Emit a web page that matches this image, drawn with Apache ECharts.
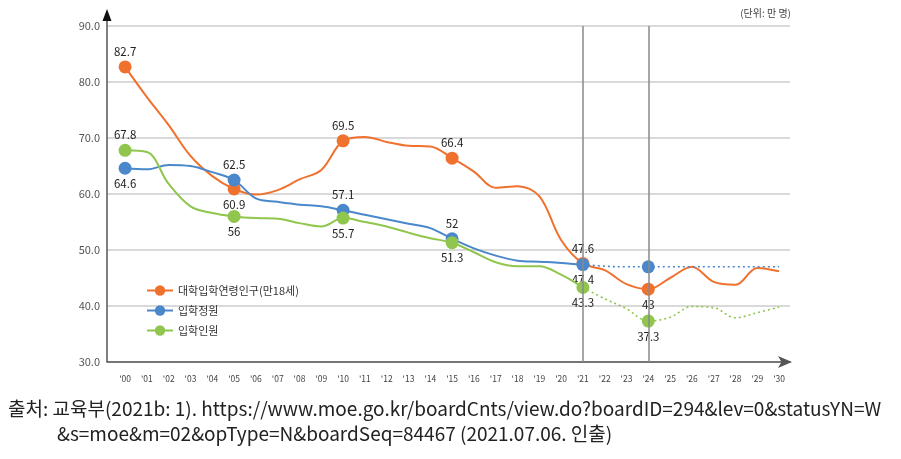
<!DOCTYPE html>
<html><head><meta charset="utf-8">
<script src="https://cdn.jsdelivr.net/npm/echarts@6/dist/echarts.min.js"></script>
<style>html,body{margin:0;padding:0;background:#fff}#c{width:901px;height:459px}</style>
</head><body><div id="c"></div>
<script>
// ---- data ----
const yearLabels = ["'00","'01","'02","'03","'04","'05","'06","'07","'08","'09","'10","'11","'12","'13","'14","'15","'16","'17","'18","'19","'20","'21","'22","'23","'24","'25","'26","'27","'28","'29","'30"];
const yTicks = [30, 40, 50, 60, 70, 80, 90];
const seriesNames = ["대학입학연령인구(만18세)", "입학정원", "입학인원"];
// 대학입학연령인구 '00-'30
const popAge18 = [82.7,77.3,72.3,66.8,63.2,60.9,59.9,60.7,62.6,64.3,69.5,70.2,69.3,68.6,68.5,66.4,64.0,61.1,61.4,59.6,51.8,47.6,46.4,43.9,43.0,45.0,47.0,44.3,43.8,46.8,46.2];
// 입학정원 '00-'21 (actual) and '21-'30 (projection)
const quotaActual = [64.6,64.4,65.2,65.0,63.9,62.5,59.2,58.6,58.1,57.8,57.1,56.3,55.5,54.7,53.9,52.0,50.3,49.0,48.1,47.9,47.7,47.4];
const quotaProj = [47.4,47.1,47.0,47.0,47.0,47.0,47.0,47.0,47.0,47.0];
// 입학인원 '00-'21 (actual) and '21-'30 (projection)
const entrantsActual = [67.8,67.5,61.8,57.8,56.6,56.0,55.7,55.6,54.8,54.2,55.7,55.0,54.2,53.1,52.1,51.3,49.6,47.8,47.1,47.1,45.6,43.3];
const entrantsProj = [43.3,41.3,39.5,37.3,38.0,39.9,39.7,37.9,38.8,39.8];
const projStart = 21;
const markedYears = [0, 5, 10, 15, 21, 24];
const dividerYears = [21, 24];
// label placement of marked points
const popLabelPos = {0:'top',5:'bottom',10:'top',15:'top',21:'top',24:'bottom'};
const quotaLabelPos = {0:'bottom',5:'top',10:'top',15:'top',21:'bottom'};
const entrantsLabelPos = {0:'top',5:'bottom',10:'bottom',15:'bottom',21:'bottom',24:'bottom'};

// ---- styles ----
const C_OR = '#F0712E', C_BL = '#4A88CB', C_GR = '#90C64E';
const FONT = '"Noto Sans CJK KR", "Noto Sans", sans-serif';

function build(values, offset, labelPos) {
  return values.map((v, k) => {
    const i = k + offset;
    const marked = markedYears.includes(i);
    const item = { value: [i, v] };
    if (marked && labelPos && labelPos[i] !== undefined) {
      item.label = { show: true, position: labelPos[i] };
    }
    if (!marked) item.symbolSize = 0;
    return item;
  });
}

function lineSeries(name, color, data, dotted) {
  return {
    name: name, type: 'line', data: data, smooth: 0.35,
    symbol: 'circle', symbolSize: 13, showSymbol: true,
    itemStyle: { color: color },
    lineStyle: { color: color, width: dotted ? 1.6 : 2, type: dotted ? [2, 3] : 'solid' },
    label: { show: false, color: '#222', fontSize: 11.5, fontFamily: FONT, distance: 3,
             formatter: p => String(p.value[1]) },
    emphasis: { disabled: true }, animation: false
  };
}

const chart = echarts.init(document.getElementById('c'), null, { renderer: 'canvas' });

const sOrange = lineSeries(seriesNames[0], C_OR, build(popAge18, 0, popLabelPos), false);
sOrange.markLine = {
  silent: true, symbol: ['none', 'none'], label: { show: false },
  lineStyle: { color: '#8a8a8a', width: 1.5, type: 'solid' },
  data: dividerYears.map(x => ({ xAxis: x })), animation: false
};
sOrange.z = 2;
const sBlue = lineSeries(seriesNames[1], C_BL, build(quotaActual, 0, quotaLabelPos), false); sBlue.z = 3;
const sBlueP = lineSeries(seriesNames[1] + ' 전망', C_BL, build(quotaProj, projStart, {}), true); sBlueP.z = 3;
const sGreen = lineSeries(seriesNames[2], C_GR, build(entrantsActual, 0, entrantsLabelPos), false); sGreen.z = 4;
const sGreenP = lineSeries(seriesNames[2] + ' 전망', C_GR, build(entrantsProj, projStart, entrantsLabelPos), true); sGreenP.z = 4;
// avoid double markers at projection start
sBlueP.data[0].symbolSize = 0; sGreenP.data[0].symbolSize = 0; delete sGreenP.data[0].label;

const GL = 107, GR = 111, GT = 26, GB = 97;

chart.setOption({
  animation: false,
  textStyle: { fontFamily: FONT },
  grid: { left: GL, right: GR, top: GT, bottom: GB },
  legend: {
    data: seriesNames, orient: 'vertical', left: 141, top: 280,
    itemWidth: 26, itemHeight: 13, itemGap: 9,
    textStyle: { fontSize: 11, color: '#333', fontFamily: FONT }
  },
  xAxis: {
    type: 'value', min: -0.83, max: 30.5,
    axisLine: { show: true, lineStyle: { color: '#555', width: 1.5 }, symbol: ['none', 'arrow'], symbolSize: [9, 14], symbolOffset: [0, 2] },
    axisTick: { show: false },
    splitLine: { show: false },
    axisLabel: {
      customValues: yearLabels.map((_, i) => i),
      formatter: v => yearLabels[Math.round(v)] || '',
      fontSize: 8.5, color: '#444', margin: 13, fontFamily: FONT
    }
  },
  yAxis: {
    type: 'value', min: yTicks[0], max: yTicks[yTicks.length - 1], interval: 10,
    axisLine: { show: false },
    axisTick: { show: false },
    splitLine: { show: true, lineStyle: { color: '#cdcdcd', width: 1.5 } },
    axisLabel: { formatter: v => v.toFixed(1), fontSize: 11, color: '#555', margin: 7, fontFamily: FONT }
  },
  graphic: [
    { type: 'line', shape: { x1: GL, y1: 459 - GB, x2: GL, y2: 16 }, style: { stroke: '#555', lineWidth: 1.5 }, z: 10 },
    { type: 'polygon', shape: { points: [[GL, 9], [GL - 4.5, 21], [GL + 4.5, 21]] }, style: { fill: '#111' }, z: 10 },
    { type: 'text', right: 110, top: 8, style: { text: '(단위: 만 명)', fontSize: 10, fill: '#444', fontFamily: FONT } },
    { type: 'text', left: 8, top: 399, style: { text: '출처: 교육부(2021b: 1). https://www.moe.go.kr/boardCnts/view.do?boardID=294&lev=0&statusYN=W', fontSize: 19, fill: '#222', fontFamily: FONT } },
    { type: 'text', left: 57, top: 424, style: { text: '&s=moe&m=02&opType=N&boardSeq=84467 (2021.07.06. 인출)', fontSize: 19, fill: '#222', fontFamily: FONT } }
  ],
  series: [sOrange, sBlue, sBlueP, sGreen, sGreenP]
});
</script></body></html>
